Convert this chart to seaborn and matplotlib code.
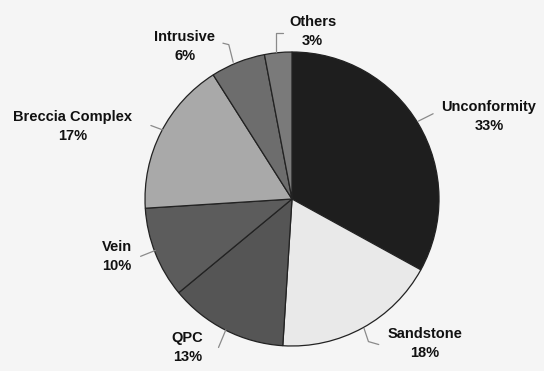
import numpy as np
import matplotlib
matplotlib.use("Agg")
import matplotlib.pyplot as plt
import seaborn as sns

# Deposit types and their share of the total (%)
categories = ["Unconformity", "Sandstone", "QPC", "Vein",
              "Breccia Complex", "Intrusive", "Others"]
shares = [33, 18, 13, 10, 17, 6, 3]

# Grey fill for each slice
slice_colors = ["#1e1e1e", "#e9e9e9", "#555555", "#5c5c5c",
                "#a9a9a9", "#6d6d6d", "#7a7a7a"]

# Label anchor (centre of the two-line label) in pie-radius units
label_xy = [(1.34, 0.56), (0.905, -0.98), (-0.71, -1.01), (-1.19, -0.39),
            (-1.49, 0.49), (-0.73, 1.04), (0.14, 1.14)]
# Leader line paths, pie-radius units
leaders = [
    [(0.86, 0.53), (0.96, 0.58)],
    [(0.49, -0.88), (0.52, -0.97), (0.59, -0.99)],
    [(-0.45, -0.89), (-0.50, -1.01)],
    [(-0.93, -0.35), (-1.03, -0.39)],
    [(-0.88, 0.47), (-0.96, 0.50)],
    [(-0.40, 0.93), (-0.43, 1.05), (-0.47, 1.06)],
    [(-0.11, 1.00), (-0.11, 1.13), (-0.06, 1.13)],
]

sns.set_theme(style="white")
plt.rcParams["font.family"] = ["Liberation Sans", "DejaVu Sans"]

fig = plt.figure(figsize=(5.44, 3.71), dpi=100)
fig.patch.set_facecolor("#f5f5f5")
ax = fig.add_axes([0, 0, 1, 1])
ax.set_facecolor("#f5f5f5")

ax.pie(shares, colors=slice_colors, startangle=90, counterclock=False,
       radius=1.0, wedgeprops=dict(edgecolor="#222222", linewidth=0.9))

for name, val, (tx, ty), path in zip(categories, shares, label_xy, leaders):
    ax.text(tx, ty, f"{name}\n{val}%", ha="center", va="center",
            fontsize=10.5, fontweight="bold", color="#111111",
            linespacing=1.45)
    xs, ys = zip(*path)
    ax.plot(xs, ys, color="#8a8a8a", lw=0.9)

R = 147.0
ax.set_xlim(-292 / R, (544 - 292) / R)
ax.set_ylim(-(371 - 199) / R, 199 / R)
ax.set_aspect("equal")
ax.axis("off")

fig.savefig("out.png", dpi=100, facecolor=fig.get_facecolor())
